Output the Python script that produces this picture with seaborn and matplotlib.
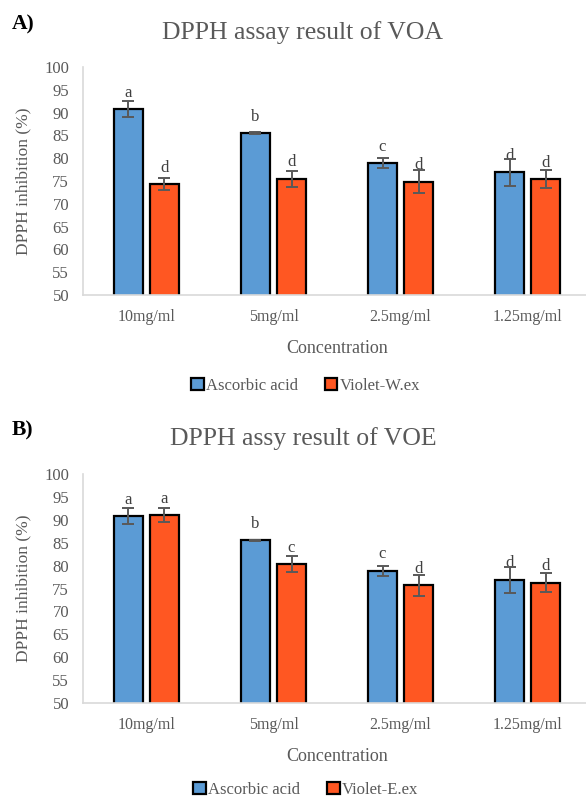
import pandas as pd
import matplotlib
matplotlib.use("Agg")
import matplotlib.pyplot as plt
import seaborn as sns

# data
concentrations = ["10mg/ml", "5mg/ml", "2.5mg/ml", "1.25mg/ml"]

ascorbic = [90.8, 85.5, 78.9, 76.9]
ascorbic_err = [1.75, 0.2, 1.1, 2.9]

violet_w = [74.3, 75.5, 74.85, 75.4]
violet_w_err = [1.35, 1.75, 2.5, 1.95]
letters_a_asc = ["a", "b", "c", "d"]
letters_a_vio = ["d", "d", "d", "d"]

violet_e = [91.0, 80.3, 75.7, 76.3]
violet_e_err = [1.5, 1.7, 2.35, 2.0]
letters_b_asc = ["a", "b", "c", "d"]
letters_b_vio = ["a", "c", "d", "d"]

sns.set_style("white")
plt.rcParams["font.family"] = ["Liberation Serif", "DejaVu Serif"]

GREY = "#595959"
palette = ["#5B9BD5", "#FF5722"]


def panel(fig, rect, second_name, second_vals, errs, letters):
    df = pd.DataFrame({
        "Concentration": concentrations * 2,
        "value": ascorbic + second_vals,
        "series": ["Ascorbic acid"] * 4 + [second_name] * 4,
    })
    ax = fig.add_axes(rect)
    sns.barplot(data=df, x="Concentration", y="value", hue="series",
                palette=palette, width=0.567, gap=0.195, errorbar=None,
                edgecolor="black", linewidth=1.6, saturation=1, ax=ax)

    # error bars + significance letters
    for cont, err, lab in zip(ax.containers, errs, letters):
        for bar, e, l in zip(cont, err, lab):
            x = bar.get_x() + bar.get_width() / 2
            y = bar.get_height()
            ax.errorbar(x, y, yerr=e, color=GREY, lw=1.4, capsize=4.5,
                        capthick=1.4, zorder=5)
            ax.text(x, y + 3.6, l, ha="center", va="center",
                    fontsize=12, color="#404040")

    ax.set_ylim(50, 100)
    ax.set_yticks(range(50, 101, 5))
    ax.set_xlim(-0.5, 3.5)
    ax.tick_params(axis="both", length=0, colors=GREY)
    ax.tick_params(axis="y", labelsize=12, pad=10)
    ax.tick_params(axis="x", labelsize=11.5, pad=10)
    ax.set_ylabel("DPPH inhibition (%)", fontsize=12.5, color=GREY)
    ax.set_xlabel("Concentration", fontsize=13, color=GREY)
    ax.yaxis.set_label_coords(-0.102, 0.5)
    ax.xaxis.set_label_coords(0.5, -0.197)
    for s in ["top", "right"]:
        ax.spines[s].set_visible(False)
    for s in ["left", "bottom"]:
        ax.spines[s].set_color("#D9D9D9")
        ax.spines[s].set_linewidth(1.2)

    handles, labels = ax.get_legend_handles_labels()
    ax.get_legend().remove()
    return ax, handles, labels


fig = plt.figure(figsize=(5.86, 8.01), dpi=100)

ax1, h1, l1 = panel(fig, [0.1416, 0.6317, 0.867, 0.2846], "Violet-W.ex",
                    violet_w, [ascorbic_err, violet_w_err],
                    [letters_a_asc, letters_a_vio])
ax2, h2, l2 = panel(fig, [0.1416, 0.1223, 0.867, 0.2859], "Violet-E.ex",
                    violet_e, [ascorbic_err, violet_e_err],
                    [letters_b_asc, letters_b_vio])

fig.text(0.517, 0.959, "DPPH assay result of VOA", ha="center", va="center",
         fontsize=18.5, color=GREY)
fig.text(0.517, 0.453, "DPPH assy result of VOE", ha="center", va="center",
         fontsize=18.5, color=GREY)
fig.text(0.02, 0.969, "A)", ha="left", va="center", fontsize=15.5,
         fontweight="bold", color="black")
fig.text(0.02, 0.463, "B)", ha="left", va="center", fontsize=15.5,
         fontweight="bold", color="black")

leg_kw = dict(ncol=2, frameon=False, fontsize=12, handlelength=0.75,
              handleheight=0.75, handletextpad=0.15, columnspacing=1.6,
              labelcolor=GREY, loc="center")
fig.legend(h1, l1, bbox_to_anchor=(0.522, 0.518), **leg_kw)
fig.legend(h2, l2, bbox_to_anchor=(0.522, 0.0135), **leg_kw)

fig.savefig("out.png", dpi=100)
